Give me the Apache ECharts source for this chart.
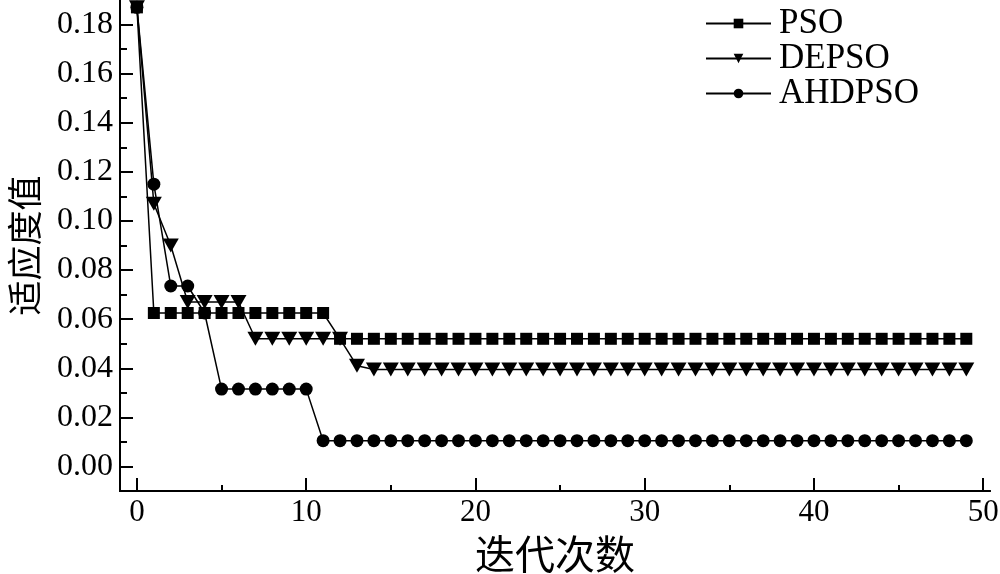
<!DOCTYPE html>
<html>
<head>
<meta charset="utf-8">
<script src="https://cdn.jsdelivr.net/npm/echarts@6/dist/echarts.min.js"></script>
<style>html,body{margin:0;padding:0;background:#fff;}#c{width:1000px;height:574px;}</style>
</head>
<body>
<div id="c"></div>
<script>
const seriesNames = ['PSO', 'DEPSO', 'AHDPSO'];
const psoValues = [0.187,
  0.0625,0.0625,0.0625,0.0625,0.0625,0.0625,0.0625,0.0625,0.0625,0.0625,0.0625,
  0.052,0.052,0.052,0.052,0.052,0.052,0.052,0.052,0.052,0.052,0.052,0.052,0.052,0.052,0.052,0.052,0.052,0.052,0.052,0.052,0.052,0.052,0.052,0.052,0.052,0.052,0.052,0.052,0.052,0.052,0.052,0.052,0.052,0.052,0.052,0.052,0.052,0.052];
const depsoValues = [0.187, 0.107, 0.090, 0.067, 0.067, 0.067, 0.067,
  0.052,0.052,0.052,0.052,0.052,0.052,
  0.041,
  0.0395,0.0395,0.0395,0.0395,0.0395,0.0395,0.0395,0.0395,0.0395,0.0395,0.0395,0.0395,0.0395,0.0395,0.0395,0.0395,0.0395,0.0395,0.0395,0.0395,0.0395,0.0395,0.0395,0.0395,0.0395,0.0395,0.0395,0.0395,0.0395,0.0395,0.0395,0.0395,0.0395,0.0395,0.0395,0.0395];
const ahdpsoValues = [0.187, 0.115, 0.0735, 0.0735, 0.0625,
  0.0315,0.0315,0.0315,0.0315,0.0315,0.0315,
  0.0105,0.0105,0.0105,0.0105,0.0105,0.0105,0.0105,0.0105,0.0105,0.0105,0.0105,0.0105,0.0105,0.0105,0.0105,0.0105,0.0105,0.0105,0.0105,0.0105,0.0105,0.0105,0.0105,0.0105,0.0105,0.0105,0.0105,0.0105,0.0105,0.0105,0.0105,0.0105,0.0105,0.0105,0.0105,0.0105,0.0105,0.0105,0.0105];
const xMajorTicks = [0, 10, 20, 30, 40, 50];
const xMinorTicks = [5, 15, 25, 35, 45];
const yMajorTicks = [0, 0.02, 0.04, 0.06, 0.08, 0.10, 0.12, 0.14, 0.16, 0.18];
const yMinorTicks = [0.01, 0.03, 0.05, 0.07, 0.09, 0.11, 0.13, 0.15, 0.17];
const xTitle = '迭代次数';
const yTitle = '适应度值';

const FONT = '"Liberation Serif", "Times New Roman", "Noto Sans CJK SC", serif';
const CJK = '"Noto Sans CJK SC", serif';
const toPairs = arr => arr.map((v, i) => [i, v]);

const chart = echarts.init(document.getElementById('c'));
const baseX = {
  type: 'value', min: -1, max: 50.4, offset: 0,
  axisLine: { show: true, onZero: false, lineStyle: { color: '#000', width: 2 } },
  splitLine: { show: false }
};
const baseY = {
  type: 'value', min: -0.01, max: 0.19, offset: 0,
  axisLine: { show: true, onZero: false, lineStyle: { color: '#000', width: 2 } },
  splitLine: { show: false }
};
chart.setOption({
  animation: false,
  backgroundColor: '#fff',
  grid: { left: 120, right: 10, top: 0, bottom: 83, containLabel: false, outerBoundsMode: 'none' },
  legend: {
    orient: 'vertical', left: 705, top: 6, padding: 0,
    itemWidth: 65, itemHeight: 12, itemGap: 0,
    data: seriesNames,
    textStyle: { fontFamily: FONT, fontSize: 35, color: '#000', lineHeight: 35, padding: [0, 0, 0, 3] }
  },
  xAxis: [
    Object.assign({}, baseX, {
      name: xTitle, nameLocation: 'middle', nameGap: 43,
      nameTextStyle: { fontFamily: CJK, fontSize: 40, color: '#000' },
      axisTick: { show: true, inside: true, length: 13, lineStyle: { color: '#000', width: 2 }, customValues: xMajorTicks },
      axisLabel: { show: true, fontFamily: FONT, fontSize: 31, color: '#000', margin: 6, customValues: xMajorTicks }
    }),
    Object.assign({}, baseX, {
      position: 'bottom',
      axisTick: { show: true, inside: true, length: 6, lineStyle: { color: '#000', width: 2 }, customValues: xMinorTicks },
      axisLabel: { show: false }
    })
  ],
  yAxis: [
    Object.assign({}, baseY, {
      name: yTitle, nameLocation: 'middle', nameGap: 78,
      nameTextStyle: { fontFamily: CJK, fontSize: 35, color: '#000' },
      axisTick: { show: true, inside: true, length: 13, lineStyle: { color: '#000', width: 2 }, customValues: yMajorTicks },
      axisLabel: { show: true, fontFamily: FONT, fontSize: 32, color: '#000', margin: 7,
        formatter: v => v.toFixed(2), customValues: yMajorTicks }
    }),
    Object.assign({}, baseY, {
      position: 'left',
      axisTick: { show: true, inside: true, length: 7, lineStyle: { color: '#000', width: 2 }, customValues: yMinorTicks },
      axisLabel: { show: false }
    })
  ],
  series: [
    { name: 'PSO', type: 'line', data: toPairs(psoValues), symbol: 'rect', symbolSize: 12, z: 5,
      clip: false, lineStyle: { color: '#000', width: 1.5 }, itemStyle: { color: '#000' } },
    { name: 'DEPSO', type: 'line', data: toPairs(depsoValues), symbol: 'triangle', symbolRotate: 180, symbolSize: [16, 14], z: 4,
      clip: false, lineStyle: { color: '#000', width: 1.5 }, itemStyle: { color: '#000' } },
    { name: 'AHDPSO', type: 'line', data: toPairs(ahdpsoValues), symbol: 'circle', symbolSize: 13, z: 3,
      clip: false, lineStyle: { color: '#000', width: 1.5 }, itemStyle: { color: '#000' } }
  ]
});
</script>
</body>
</html>
